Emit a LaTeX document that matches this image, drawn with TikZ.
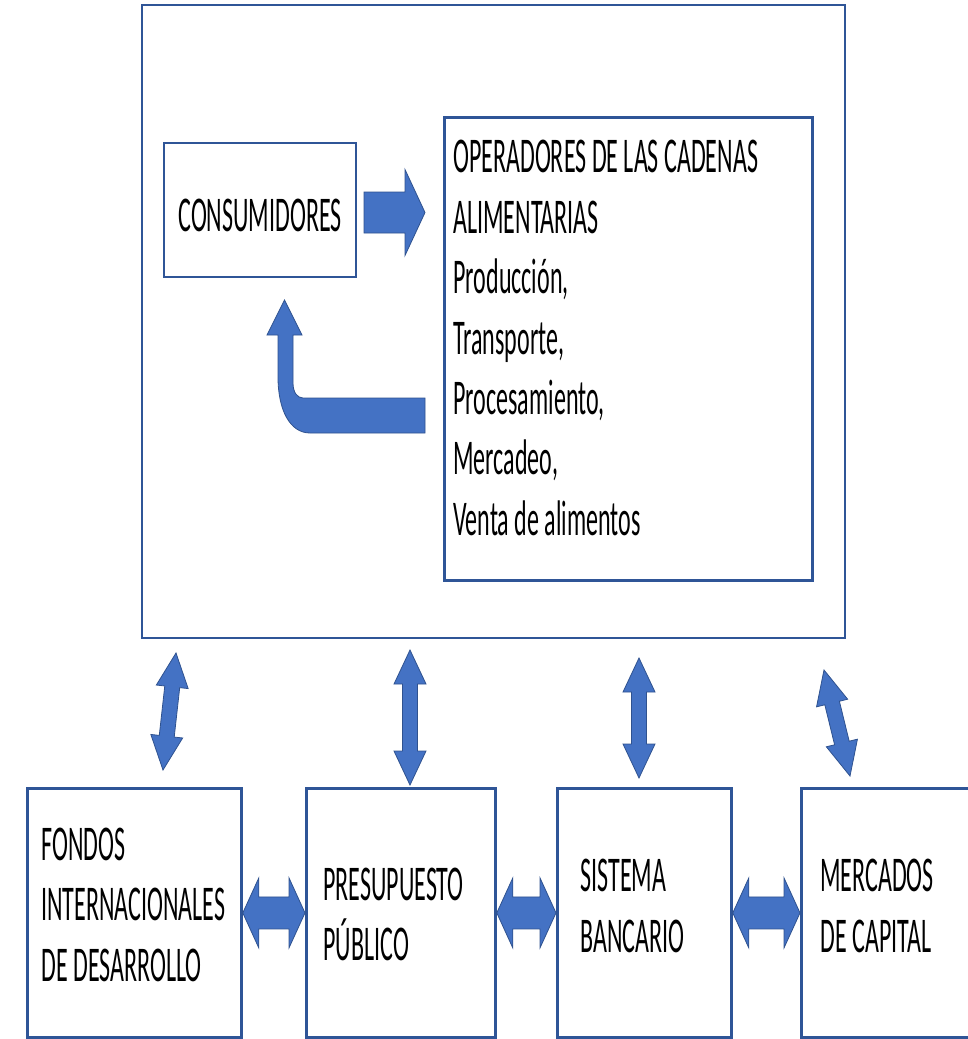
\documentclass[tikz,border=0pt]{standalone}
\usepackage{fontspec}
\setmainfont{Carlito}[FakeStretch=0.48]
\usetikzlibrary{calc,positioning}
\definecolor{boxline}{HTML}{2F5597}
\definecolor{arrfill}{HTML}{4472C4}
\definecolor{arredge}{HTML}{2F528F}
\newcommand{\diagfont}{\fontsize{50}{60.4}\selectfont}
\newcommand{\wsp}{\kern5.5pt\relax}

% block arrow with two heads: tips #1 and #2, head length #3,
% head half-width #4, shaft half-width #5
\newcommand{\dblblock}[5]{%
  \filldraw[blockarr] (#1)
    -- ($(#1)!#3!(#2)!#4!90:(#2)$) -- ($(#1)!#3!(#2)!#5!90:(#2)$)
    -- ($(#2)!#3!(#1)!#5!-90:(#1)$) -- ($(#2)!#3!(#1)!#4!-90:(#1)$)
    -- (#2)
    -- ($(#2)!#3!(#1)!#4!90:(#1)$) -- ($(#2)!#3!(#1)!#5!90:(#1)$)
    -- ($(#1)!#3!(#2)!#5!-90:(#2)$) -- ($(#1)!#3!(#2)!#4!-90:(#2)$)
    -- cycle;}
% block arrow with one head: tail #1, tip #2
\newcommand{\oneblock}[5]{%
  \filldraw[blockarr] ($(#1)!#5!90:(#2)$)
    -- ($(#2)!#3!(#1)!#5!-90:(#1)$) -- ($(#2)!#3!(#1)!#4!-90:(#1)$)
    -- (#2)
    -- ($(#2)!#3!(#1)!#4!90:(#1)$) -- ($(#2)!#3!(#1)!#5!90:(#1)$)
    -- ($(#1)!#5!-90:(#2)$) -- cycle;}

\begin{document}
\begin{tikzpicture}[x=1pt, y=-1pt,
  every node/.style={font=\diagfont},
  box/.style={draw=boxline, line width=2.8pt, fill=white, inner ysep=0pt,
              align=left, text height=40pt},
  bottombox/.style={box, anchor=north west, minimum height=249pt},
  blockarr/.style={fill=arrfill, draw=arredge, line width=0.8pt}
]
  \useasboundingbox (0,0) rectangle (968,1039);

  % food system
  \node[box, minimum width=703pt, minimum height=633pt] (sector) at (493.5,321.5) {};
  \node[box, minimum width=192pt, minimum height=134pt, inner xsep=0pt,
        text height=50pt, text depth=8pt] (cons) at (260,210) {CONSUMIDORES};
  \node[box, anchor=north west, minimum width=368pt, minimum height=463pt,
        text width=350pt, inner xsep=9pt, text depth=392pt] (ops) at (443,116)
    {OPERADORES\wsp DE\wsp LAS\wsp CADENAS\\ ALIMENTARIAS\\ Producción,\\ Transporte,\\
     Procesamiento,\\ Mercadeo,\\ Venta\wsp de\wsp alimentos};

  % financing sources
  \node[bottombox, minimum width=214pt, text width=186pt, inner xsep=14pt,
        text depth=145pt] (fondos) at (26,787)
    {FONDOS\\ INTERNACIONALES\\ DE\wsp DESARROLLO};
  \node[bottombox, minimum width=189pt, text width=155pt, inner xsep=17pt,
        text depth=65pt] (presup) at (305,787) {PRESUPUESTO\\ PÚBLICO};
  \node[bottombox, minimum width=174pt, text width=128pt, inner xsep=23pt,
        text depth=82pt] (banco) at (556,787) {SISTEMA\\ BANCARIO};
  \node[bottombox, minimum width=200pt, text width=162pt, inner xsep=19pt,
        text depth=82pt] (capital) at (800,787) {MERCADOS\\ DE\wsp CAPITAL};

  % flows inside the food system
  \coordinate (fwdtail) at (364,212.5);
  \coordinate (fwdtip) at (425,212.5);
  \oneblock{fwdtail}{fwdtip}{20pt}{43pt}{20.5pt}
  \filldraw[blockarr] (284.5,300) -- (302,335) -- (293,335) -- (293,383)
    .. controls (293,392) and (297,398) .. (303,398) -- (425,398) -- (425,433) -- (310,433)
    .. controls (290,433) and (278,410) .. (278,377) -- (278,335) -- (267,335) -- cycle;

  % links between the system and its sources
  \coordinate (v1top) at (176,653);  \coordinate (v1bot) at (163,770);
  \coordinate (v2top) at (410,650);  \coordinate (v2bot) at (410,785);
  \coordinate (v3top) at (639,658);  \coordinate (v3bot) at (639,778);
  \coordinate (v4top) at (824,670);  \coordinate (v4bot) at (850,776);
  \dblblock{v1top}{v1bot}{34pt}{16pt}{7.5pt}
  \dblblock{v2top}{v2bot}{34pt}{16pt}{7.5pt}
  \dblblock{v3top}{v3bot}{34pt}{16pt}{7.5pt}
  \dblblock{v4top}{v4bot}{34pt}{16pt}{7.5pt}

  \dblblock{fondos.east}{presup.west}{16pt}{35pt}{16pt}
  \dblblock{presup.east}{banco.west}{16pt}{35pt}{16pt}
  \dblblock{banco.east}{capital.west}{16pt}{35pt}{16pt}
\end{tikzpicture}
\end{document}
